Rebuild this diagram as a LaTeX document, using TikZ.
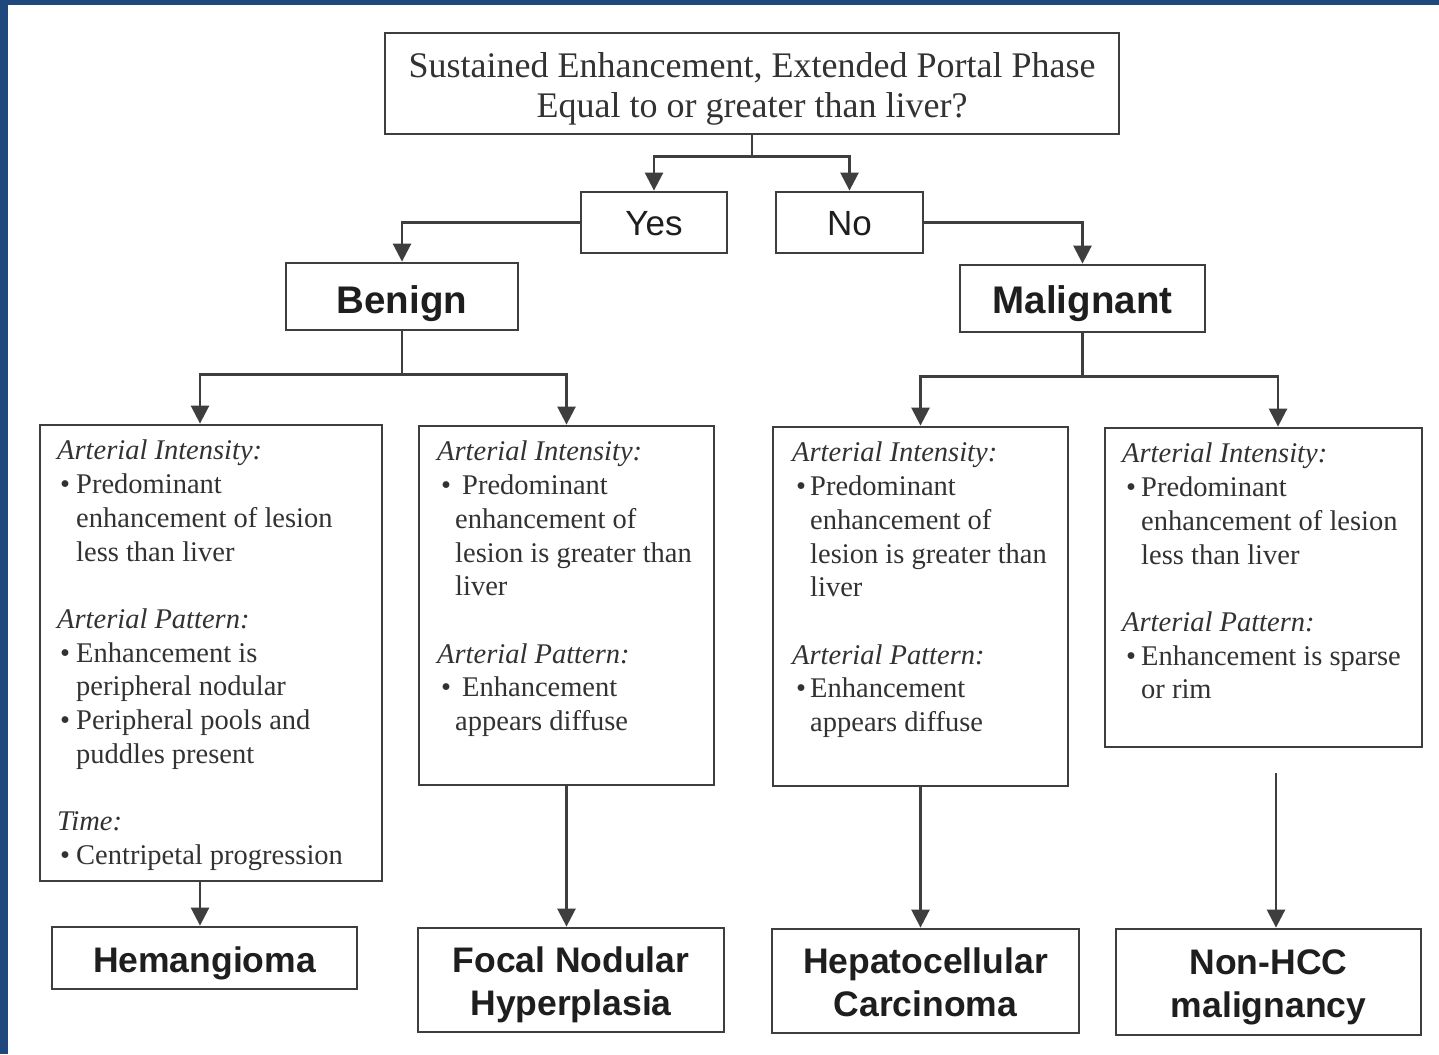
\documentclass[tikz,border=0pt]{standalone}
\usepackage{fontspec}
\setmainfont{Liberation Serif}
\newfontfamily\sansf{Liberation Sans}
\usetikzlibrary{arrows.meta,calc}
\definecolor{frameblue}{RGB}{31,73,125}
\definecolor{ink}{RGB}{62,62,62}
\definecolor{txt}{RGB}{50,50,50}
\definecolor{btxt}{RGB}{30,30,30}
\newcommand\bitem[3]{\makebox[#2pt][l]{\hspace{#1pt}\textbullet}#3}
\newcommand\cont[2]{\hspace*{#1pt}#2}
\begin{document}
\begin{tikzpicture}[x=1pt,y=1pt,
  box/.style={draw=ink, line width=2.8pt, inner sep=0pt, text=btxt},
  conn/.style={draw=ink, line width=2.6pt},
  arr/.style={draw=ink, line width=2.6pt, -{Triangle[length=18pt,width=18pt]}},
  body/.style={anchor=north west, inner sep=0pt, align=left, text=txt, font=\fontsize{28.5}{33.7}\selectfont},
  toptxt/.style={inner sep=0pt, font=\fontsize{36}{40}\selectfont, align=center, text=txt},
  yn/.style={font=\sansf\fontsize{35}{40}\selectfont, text height=25pt, text depth=0pt},
  cls/.style={font=\sansf\bfseries\fontsize{38.5}{44}\selectfont, text depth=0pt},
  res/.style={inner sep=0pt, font=\sansf\bfseries\fontsize{35.5}{43}\selectfont, align=center, text=btxt}]
\useasboundingbox (0,0) rectangle (1439,-1054);
\fill[white] (0,0) rectangle (1439,-1054);
\fill[frameblue] (0,0) rectangle (8,-1054);
\fill[frameblue] (0,0) rectangle (1439,-5);

% top question
\node[box, minimum width=734pt, minimum height=101pt] (top) at (752,-83.5) {};
\node[toptxt] (topt) at (752,-88.5)
  {Sustained Enhancement, Extended Portal Phase\\Equal to or greater than liver?};

% yes / no, benign / malignant
\node[box, yn, minimum width=146pt, minimum height=61pt] (yes) at (654,-222.5) {Yes};
\node[box, yn, minimum width=147pt, minimum height=61pt] (no) at (849.5,-222.5) {No};
\node[box, cls, text height=33pt, minimum width=232pt, minimum height=67pt] (benign) at (402,-296.5) {Benign};
\node[box, cls, text height=29pt, minimum width=245pt, minimum height=67pt] (malig) at (1082.5,-298.5) {Malignant};

% criteria boxes
\node[box, minimum width=342pt, minimum height=456pt] (b1) at (211,-653) {};
\node[box, minimum width=295pt, minimum height=359pt] (b2) at (566.5,-605.5) {};
\node[box, minimum width=295pt, minimum height=359pt] (b3) at (920.5,-606.5) {};
\node[box, minimum width=317pt, minimum height=319pt] (b4) at (1263.5,-587.5) {};

\node[body] (t1) at (57,-440) {{\itshape Arterial Intensity:}\\
\bitem{3}{19}{Predominant}\\
\cont{19}{enhancement of lesion}\\
\cont{19}{less than liver}\\[33.7pt]
{\itshape Arterial Pattern:}\\
\bitem{3}{19}{Enhancement is}\\
\cont{19}{peripheral nodular}\\
\bitem{3}{19}{Peripheral pools and}\\
\cont{19}{puddles present}\\[33.7pt]
{\itshape Time:}\\
\bitem{3}{19}{Centripetal progression}};

\node[body] (t2) at (437,-441) {{\itshape Arterial Intensity:}\\
\bitem{4}{25}{Predominant}\\
\cont{18}{enhancement of}\\
\cont{18}{lesion is greater than}\\
\cont{18}{liver}\\[33.7pt]
{\itshape Arterial Pattern:}\\
\bitem{4}{25}{Enhancement}\\
\cont{18}{appears diffuse}};

\node[body] (t3) at (792,-442) {{\itshape Arterial Intensity:}\\
\bitem{4}{18}{Predominant}\\
\cont{18}{enhancement of}\\
\cont{18}{lesion is greater than}\\
\cont{18}{liver}\\[33.7pt]
{\itshape Arterial Pattern:}\\
\bitem{4}{18}{Enhancement}\\
\cont{18}{appears diffuse}};

\node[body] (t4) at (1122,-443) {{\itshape Arterial Intensity:}\\
\bitem{4}{19}{Predominant}\\
\cont{19}{enhancement of lesion}\\
\cont{19}{less than liver}\\[33.7pt]
{\itshape Arterial Pattern:}\\
\bitem{4}{19}{Enhancement is sparse}\\
\cont{19}{or rim}};

% results
\node[box, minimum width=305pt, minimum height=62pt] (hem) at (204.5,-958) {};
\node[res] (hemt) at (204.5,-963) {Hemangioma};
\node[box, minimum width=306pt, minimum height=104pt] (fnh) at (571,-980) {};
\node[res] (fnht) at (571,-985) {Focal Nodular\\Hyperplasia};
\node[box, minimum width=307pt, minimum height=104pt] (hcc) at (925.5,-981) {};
\node[res] (hcct) at (925.5,-982.5) {Hepatocellular\\Carcinoma};
\node[box, minimum width=305pt, minimum height=106pt] (nonhcc) at (1268.5,-982) {};
\node[res] (nonhcct) at (1268.5,-987) {Non-HCC\\malignancy};

% connectors
\draw[conn] (top.south) -- ++(0,-21) coordinate (j1);
\draw[arr] (j1) -| (yes.north);
\draw[arr] (j1) -| (no.north);
\draw[arr] (yes.west) -| (benign.north);
\draw[arr] (no.east) -| (malig.north);

\draw[conn] (benign.south) -- ++(0,-43) coordinate (j2);
\draw[arr] (j2) -| ([xshift=-11pt]b1.north);
\draw[arr] (j2) -| (b2.north);
\draw[conn] (malig.south) -- ++(0,-43) coordinate (j3);
\draw[arr] (j3) -| (b3.north);
\draw[arr] (j3) -| ([xshift=14.5pt]b4.north);

\draw[arr] ([xshift=-11pt]b1.south) -- ([xshift=-11pt]b1.south |- hem.north);
\draw[arr] (b2.south) -- (b2.south |- fnh.north);
\draw[arr] (b3.south) -- (b3.south |- hcc.north);
\coordinate (g4) at ([xshift=12.5pt,yshift=-25pt]b4.south);
\draw[arr] (g4) -- (g4 |- nonhcc.north);
\end{tikzpicture}
\end{document}
